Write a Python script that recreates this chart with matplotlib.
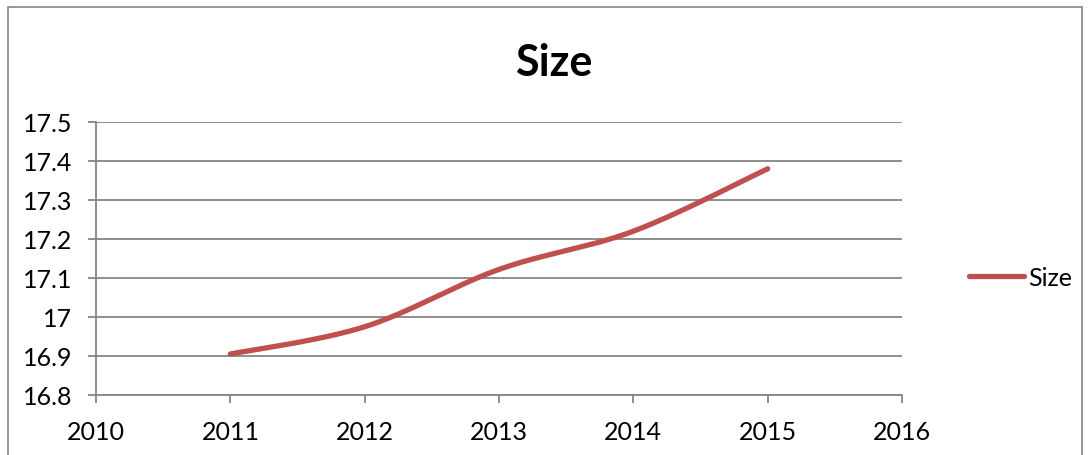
import numpy as np
import matplotlib.pyplot as plt
from matplotlib.patches import Rectangle

years = [2011, 2012, 2013, 2014, 2015]
size = [16.905, 16.975, 17.122, 17.22, 17.38]


def smooth(x, y, n=40, t=0.5):
    # Catmull-Rom style curve through the points, like Excel's smoothed line
    x = np.asarray(x, float)
    y = np.asarray(y, float)
    px = np.concatenate([[x[0]], x, [x[-1]]])
    py = np.concatenate([[y[0]], y, [y[-1]]])
    xs, ys = [], []
    for i in range(1, len(px) - 2):
        p0, p1, p2, p3 = [np.array([px[j], py[j]]) for j in (i - 1, i, i + 1, i + 2)]
        c1 = p1 + (p2 - p0) * t / 3
        c2 = p2 - (p3 - p1) * t / 3
        s = np.linspace(0, 1, n)[:, None]
        b = (1 - s) ** 3 * p1 + 3 * (1 - s) ** 2 * s * c1 + 3 * (1 - s) * s ** 2 * c2 + s ** 3 * p2
        xs.extend(b[:, 0])
        ys.extend(b[:, 1])
    return xs, ys


plt.rcParams['font.family'] = ['Lato', 'DejaVu Sans']

fig = plt.figure(figsize=(10.89, 4.56), dpi=100)
ax = fig.add_axes([0.0882, 0.1316, 0.7401, 0.5987])

# outer chart frame
fig.patches.append(Rectangle((0.007, -0.1), 0.987, 1.083, transform=fig.transFigure,
                             fill=False, edgecolor='#868686', linewidth=1.2))

sx, sy = smooth(years, size)
ax.plot(sx, sy, color='#C0504D', linewidth=3.8, solid_capstyle='round', label='Size')

ax.set_xlim(2010, 2016)
ax.set_ylim(16.8, 17.5)
ax.set_xticks(range(2010, 2017))
ax.set_yticks(np.round(np.arange(16.8, 17.51, 0.1), 1))
ax.set_yticklabels(['16.8', '16.9', '17', '17.1', '17.2', '17.3', '17.4', '17.5'])

ax.grid(axis='y', color='#868686', linewidth=1.3)
ax.set_axisbelow(True)
for side in ('top', 'right'):
    ax.spines[side].set_visible(False)
for side in ('left', 'bottom'):
    ax.spines[side].set_color('#868686')
    ax.spines[side].set_linewidth(1.3)
ax.tick_params(axis='both', colors='#868686', labelcolor='black', labelsize=18,
               length=6, width=1.3, direction='out')
ax.tick_params(axis='x', pad=12)
ax.tick_params(axis='y', pad=11)

fig.text(0.508, 0.862, 'Size', ha='center', va='center', fontsize=31, fontweight='bold')

ax.legend(loc='center left', bbox_to_anchor=(1.083, 0.432), frameon=False, fontsize=18,
          handlelength=2.2, handletextpad=0.15, borderpad=0, borderaxespad=0)

fig.savefig('out.png', dpi=100)
